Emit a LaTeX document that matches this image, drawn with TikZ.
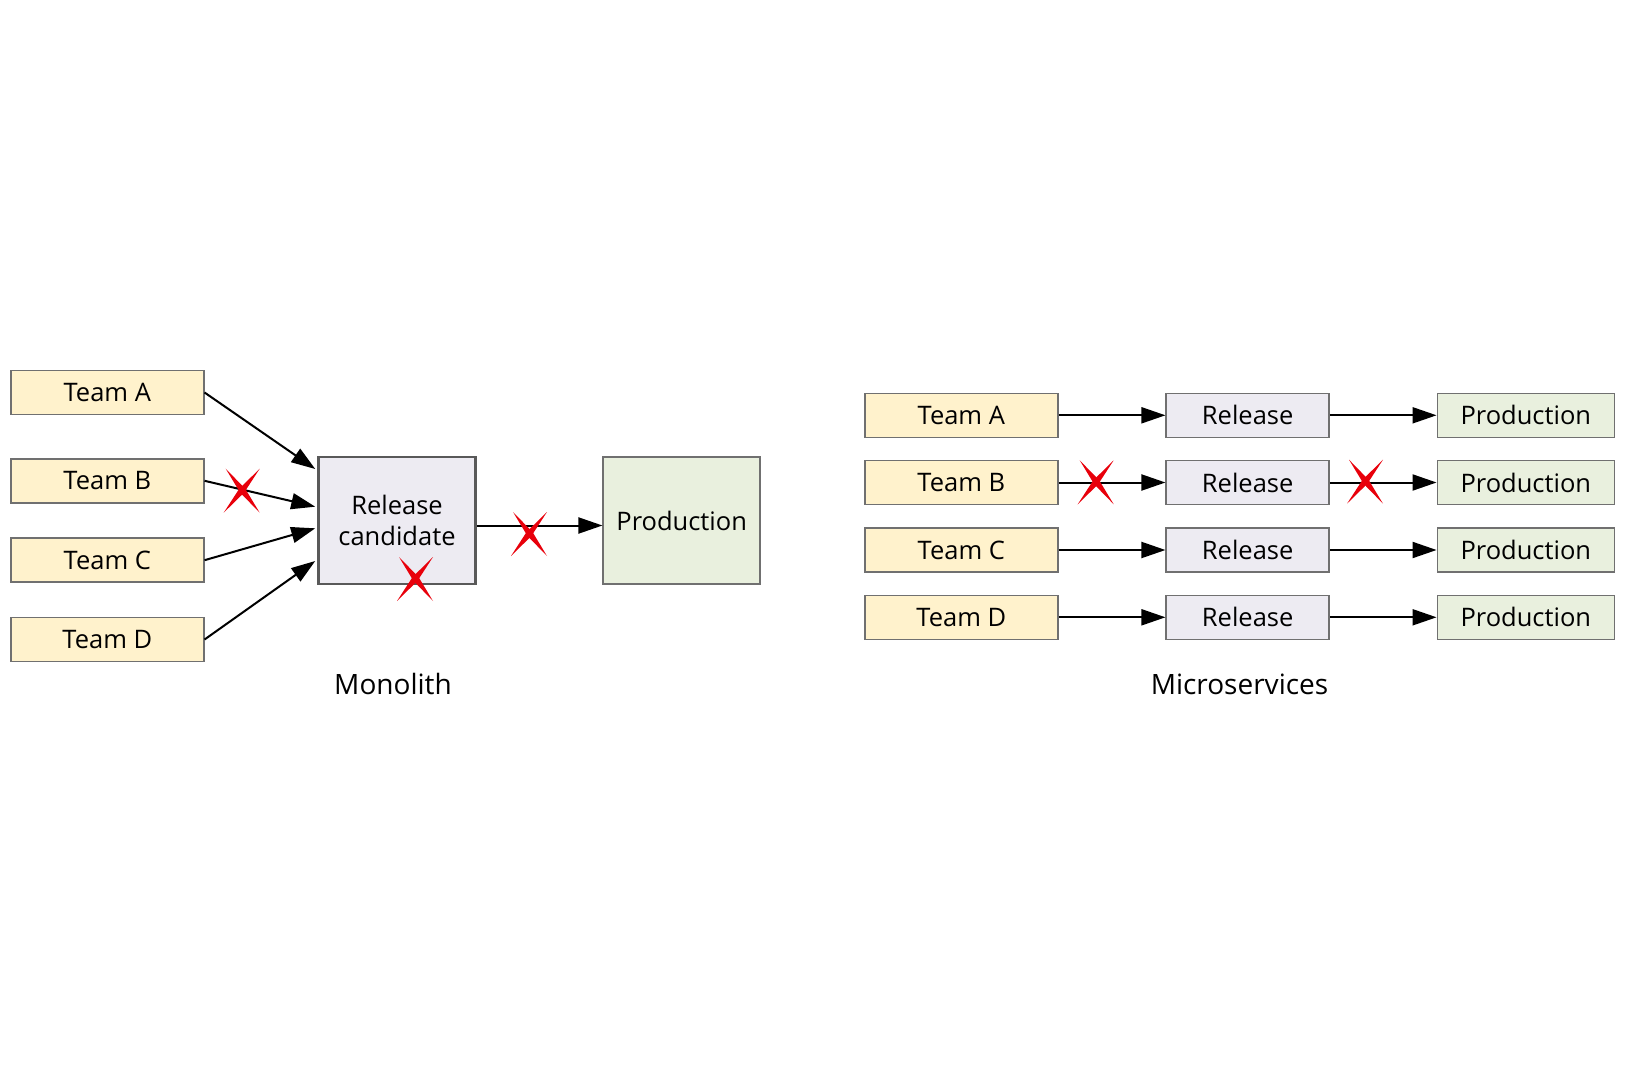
\documentclass[tikz,border=0pt]{standalone}
\usepackage{fontspec}
\setmainfont{Open Sans}
\usetikzlibrary{arrows.meta,calc}
\definecolor{teamfill}{HTML}{FFF2CC}
\definecolor{relfill}{HTML}{EDEBF2}
\definecolor{prodfill}{HTML}{E9F0DE}
\definecolor{boxline}{HTML}{707070}
\definecolor{xred}{HTML}{E8000B}
\tikzset{
	box/.style={draw=boxline, line width=1.5pt, inner sep=0pt, font=\fontsize{25.5}{31}\selectfont},
	teambox/.style={box, fill=teamfill, minimum width=193pt, minimum height=44pt},
	relbox/.style={box, fill=relfill, minimum width=163pt, minimum height=44pt},
	prodbox/.style={box, fill=prodfill, minimum width=177pt, minimum height=44pt},
	flow/.style={line width=2pt, -{Triangle[length=24pt,width=16pt]}},
	caption/.style={font=\fontsize{28}{32}\selectfont},
	failx/.pic={
		\fill[xred] (-18,22) -- (2.4,2) -- (18,-22) -- (-2.4,-2) -- cycle;
		\fill[xred] (-16,-22) -- (3.5,-2) -- (18,22) -- (-1.5,2) -- cycle;
	}
}
\begin{document}
\begin{tikzpicture}[x=1pt, y=-1pt]
	\useasboundingbox (0,0) rectangle (1625,1083);
	
	% Monolith
	\node[teambox] (teamA) at (107.3,392.5) {Team A};
	\node[teambox] (teamB) at (107.3,480.8) {Team B};
	\node[teambox] (teamC) at (107.3,560.2) {Team C};
	\node[teambox] (teamD) at (107.3,639.5) {Team D};
	\node[box, fill=relfill, draw=black!65, line width=2.5pt, minimum width=157pt, minimum height=127pt, align=center] (rc) at (397,520.5) {Release\\candidate};
	\node[box, fill=prodfill, minimum width=157pt, minimum height=127pt] (prod) at (681.7,520.5) {Production};
	
	\coordinate (inA) at ($(rc.west)+(-2,-51.5)$);
	\coordinate (inB) at ($(rc.west)+(-2,-13.8)$);
	\coordinate (inC) at ($(rc.west)+(-2,7.8)$);
	\coordinate (inD) at ($(rc.west)+(-2,40.5)$);
	\draw[flow] (teamA.east) -- (inA);
	\draw[flow] (teamB.east) -- (inB);
	\draw[flow] (teamC.east) -- (inC);
	\draw[flow] (teamD.east) -- (inD);
	\draw[flow] ([yshift=-5pt]rc.east) -- ([yshift=-5pt]prod.west);
	
	\pic at (241.7,490.7) {failx};%Team B blockiert
	\pic at (415,579) {failx};%Release candidate
	\pic at (529,534) {failx};%Production
	
	\node[caption] (mono) at (393,684) {Monolith};
	
	% Microservices
	\node[teambox] (mteamA) at (961.3,415.3) {Team A};
	\node[teambox] (mteamB) at (961.3,482.5) {Team B};
	\node[teambox] (mteamC) at (961.3,550) {Team C};
	\node[teambox] (mteamD) at (961.3,617.3) {Team D};
	
	\node[relbox] (relA) at (1247.7,415.3) {Release};
	\node[relbox] (relB) at (1247.7,482.5) {Release};
	\node[relbox] (relC) at (1247.7,550) {Release};
	\node[relbox] (relD) at (1247.7,617.3) {Release};
	
	\node[prodbox] (prodA) at (1525.8,415.3) {Production};
	\node[prodbox] (prodB) at (1525.8,482.5) {Production};
	\node[prodbox] (prodC) at (1525.8,550) {Production};
	\node[prodbox] (prodD) at (1525.8,617.3) {Production};
	
	\draw[flow] (mteamA.east) -- (relA.west);
	\draw[flow] (mteamB.east) -- (relB.west);
	\draw[flow] (mteamC.east) -- (relC.west);
	\draw[flow] (mteamD.east) -- (relD.west);
	\draw[flow] (relA.east) -- (prodA.west);
	\draw[flow] (relB.east) -- (prodB.west);
	\draw[flow] (relC.east) -- (prodC.west);
	\draw[flow] (relD.east) -- (prodD.west);
	
	\pic at (1095.7,482.3) {failx};
	\pic at (1365,481.7) {failx};
	
	\node[caption] (micro) at (1239.5,684) {Microservices};
\end{tikzpicture}
\end{document}
